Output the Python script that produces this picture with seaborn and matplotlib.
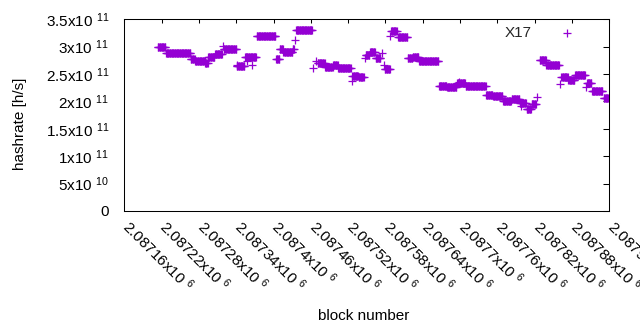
import numpy as np
import pandas as pd
import matplotlib
matplotlib.use("Agg")
import matplotlib.pyplot as plt
import matplotlib.transforms as mtransforms
import seaborn as sns

# ---- data: runs of blocks with constant hashrate ----
run_first = [2087214, 2087227, 2087267, 2087274, 2087290, 2087295, 2087306, 2087318,
             2087320, 2087341, 2087342, 2087357, 2087365, 2087354, 2087373, 2087404,
             2087410, 2087416, 2087431, 2087434, 2087436, 2087463, 2087468, 2087471,
             2087483, 2087496, 2087504, 2087526, 2087527, 2087537, 2087547, 2087548,
             2087555, 2087564, 2087574, 2087578, 2087579, 2087588, 2087589, 2087600,
             2087616, 2087624, 2087634, 2087666, 2087679, 2087695, 2087698, 2087709,
             2087742, 2087753, 2087769, 2087783, 2087796, 2087798, 2087807, 2087815,
             2087824, 2087828, 2087839, 2087861, 2087863, 2087874, 2087885, 2087903,
             2087904, 2087912, 2087931]
run_last = [2087226, 2087266, 2087273, 2087289, 2087294, 2087305, 2087317, 2087318,
            2087340, 2087353, 2087342, 2087357, 2087365, 2087372, 2087403, 2087409,
            2087415, 2087430, 2087433, 2087434, 2087462, 2087463, 2087468, 2087482,
            2087495, 2087503, 2087524, 2087526, 2087536, 2087545, 2087547, 2087554,
            2087563, 2087572, 2087574, 2087578, 2087587, 2087588, 2087598, 2087615,
            2087623, 2087633, 2087665, 2087678, 2087694, 2087708, 2087698, 2087741,
            2087752, 2087768, 2087782, 2087795, 2087806, 2087798, 2087814, 2087822,
            2087824, 2087838, 2087859, 2087861, 2087873, 2087884, 2087901, 2087903,
            2087911, 2087929, 2087939]
run_hashrate = [3.00e11, 2.88e11, 2.77e11, 2.73e11, 2.70e11, 2.81e11, 2.86e11, 3.02e11,
                2.95e11, 2.64e11, 2.67e11, 2.74e11, 2.67e11, 2.82e11, 3.19e11, 2.77e11,
                2.95e11, 2.90e11, 2.96e11, 3.12e11, 3.30e11, 2.61e11, 2.73e11, 2.70e11,
                2.62e11, 2.66e11, 2.61e11, 2.37e11, 2.46e11, 2.44e11, 2.79e11, 2.84e11,
                2.90e11, 2.79e11, 2.89e11, 2.67e11, 2.60e11, 3.20e11, 3.28e11, 3.17e11,
                2.80e11, 2.82e11, 2.73e11, 2.28e11, 2.26e11, 2.33e11, 2.36e11, 2.28e11,
                2.12e11, 2.10e11, 2.01e11, 2.04e11, 1.98e11, 1.92e11, 1.86e11, 1.96e11,
                2.08e11, 2.75e11, 2.66e11, 2.31e11, 2.45e11, 2.40e11, 2.48e11, 2.26e11,
                2.34e11, 2.20e11, 2.07e11]

series_name = "X17"
xtick_values = [2087160, 2087220, 2087280, 2087340, 2087400, 2087460, 2087520,
                2087580, 2087640, 2087700, 2087760, 2087820, 2087880, 2087940]
xtick_labels = ["2.08716x10 $^{6}$", "2.08722x10 $^{6}$", "2.08728x10 $^{6}$",
                "2.08734x10 $^{6}$", "2.0874x10 $^{6}$", "2.08746x10 $^{6}$",
                "2.08752x10 $^{6}$", "2.08758x10 $^{6}$", "2.08764x10 $^{6}$",
                "2.0877x10 $^{6}$", "2.08776x10 $^{6}$", "2.08782x10 $^{6}$",
                "2.08788x10 $^{6}$", "2.08794x10 $^{6}$"]
ytick_values = [0, 5e10, 1e11, 1.5e11, 2e11, 2.5e11, 3e11, 3.5e11]
ytick_labels = ["0", "5x10 $^{10}$", "1x10 $^{11}$", "1.5x10 $^{11}$", "2x10 $^{11}$",
                "2.5x10 $^{11}$", "3x10 $^{11}$", "3.5x10 $^{11}$"]

# ---- build table ----
blocks = np.concatenate([np.arange(a, b + 1) for a, b in zip(run_first, run_last)])
values = np.concatenate([np.full(b - a + 1, v) for a, b, v in zip(run_first, run_last, run_hashrate)])
df = pd.DataFrame({"block": blocks, "hashrate": values})

sns.set_theme(style="white")
plt.rcParams["font.family"] = ["Liberation Sans", "DejaVu Sans"]
plt.rcParams["mathtext.fontset"] = "custom"
plt.rcParams["mathtext.rm"] = "Liberation Sans"
plt.rcParams["mathtext.it"] = "Liberation Sans:italic"
plt.rcParams["mathtext.bf"] = "Liberation Sans:bold"

W, H = 640, 330
fig = plt.figure(figsize=(W / 100, H / 100), dpi=100)
L, R, T, B = 124.3, 609.3, 19.3, 211.0
ax = fig.add_axes([L / W, 1 - B / H, (R - L) / W, (B - T) / H])

color = "#9400D3"
sns.scatterplot(data=df, x="block", y="hashrate", ax=ax, marker="+", color=color,
                s=26, linewidth=0.9, label=series_name)

ax.set_xlim(2087160, 2087940)
ax.set_ylim(0, 3.5e11)

ax.set_xticks(xtick_values)
ax.set_xticklabels(xtick_labels, rotation=-45, ha="left", va="top", rotation_mode="anchor")
ax.set_yticks(ytick_values)
ax.set_yticklabels(ytick_labels)

ax.tick_params(axis="both", direction="in", top=True, right=True, colors="black",
               width=0.75, labelsize=11)
ax.tick_params(axis="x", length=3, pad=4)
ax.tick_params(axis="y", length=4, pad=11)
for sp in ax.spines.values():
    sp.set_color("black")
    sp.set_linewidth(0.75)
    sp.set_visible(True)

shift = mtransforms.ScaledTranslation(8 / 100, 0, fig.dpi_scale_trans)
for lab in ax.get_xticklabels():
    lab.set_transform(lab.get_transform() + shift)

ax.set_xlabel("block number", fontsize=11, color="black")
ax.set_ylabel("hashrate [h/s]", fontsize=11, color="black")
ax.xaxis.set_label_coords((364 - L) / (R - L), (B - 309) / (B - T))
ax.yaxis.set_label_coords((27 - L) / (R - L), (B - 124) / (B - T))

ax.legend(loc="upper right", bbox_to_anchor=(574.7 / W, 1 - 26.4 / H),
          bbox_transform=fig.transFigure, frameon=False, markerfirst=False,
          handlelength=1.0, handletextpad=1.8, borderpad=0, borderaxespad=0,
          fontsize=11, scatterpoints=1)

fig.savefig("out.png", dpi=100)
